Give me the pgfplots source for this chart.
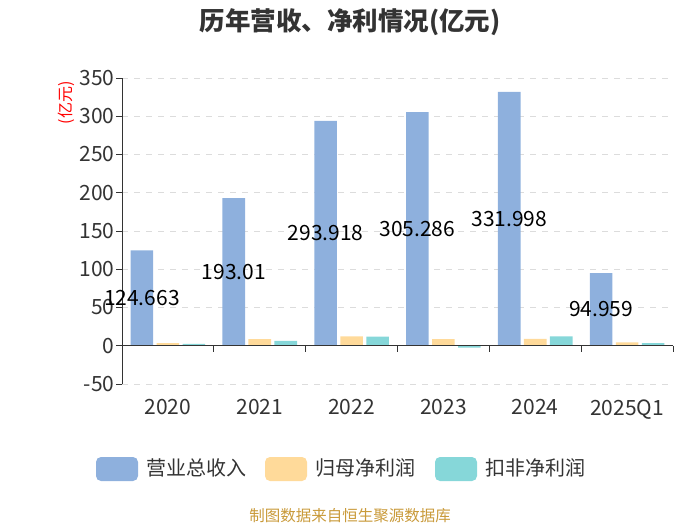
\documentclass[border=0pt]{standalone}
\usepackage{fontspec}
\setmainfont{Noto Sans CJK SC}
\usepackage{pgfplots}
\pgfplotsset{compat=1.18}
\definecolor{cblue}{HTML}{8EB0DD}
\definecolor{corange}{HTML}{FFDA9A}
\definecolor{cteal}{HTML}{86D7D9}
\definecolor{gridc}{HTML}{DCDCDC}
\definecolor{axc}{HTML}{333333}
\definecolor{foot}{HTML}{C99A3A}
\begin{document}
\begin{tikzpicture}[x=1pt,y=1pt]
\path[use as bounding box] (0,0) rectangle (700,525);
\begin{axis}[
  at={(122pt,141pt)}, anchor=south west, scale only axis,
  width=551pt, height=306pt,
  xmin=-0.5, xmax=5.5, ymin=-50, ymax=350,
  ytick={-50,0,50,100,150,200,250,300,350},
  xtick={0,1,2,3,4,5},
  xticklabels={2020,2021,2022,2023,2024,2025Q1},
  axis y line=left, axis x line=bottom,
  axis line style={-, axc, line width=0.9pt},
  x axis line style={draw=none},
  xtick style={draw=none},
  ytick style={axc, line width=0.9pt},
  tick align=outside, major tick length=6pt,
  ymajorgrids, grid style={gridc, line width=0.9pt, dash pattern=on 6pt off 6pt},
  tick label style={font=\fontsize{21}{21}\selectfont, text=axc},
  yticklabel style={xshift=2pt},
  xticklabel style={yshift=-6pt},
  /pgf/number format/assume math mode=true,
  ybar=3.4pt, bar width=22.6pt,
  clip=false,
]
\addplot[fill=cblue, draw=none] coordinates {(0,124.663) (1,193.01) (2,293.918) (3,305.286) (4,331.998) (5,94.959)};
\addplot[fill=corange, draw=none] coordinates {(0,3.5) (1,8.7) (2,12.2) (3,8.7) (4,9.1) (5,4.4)};
\addplot[fill=cteal, draw=none] coordinates {(0,2.6) (1,6.5) (2,11.8) (3,-2.5) (4,12.2) (5,3.5)};
\draw[axc, line width=0.9pt] (axis cs:-0.5,0) -- (axis cs:5.5,0);
\pgfplotsinvokeforeach{-0.5,0.5,1.5,2.5,3.5,4.5,5.5}{
  \draw[axc, line width=0.9pt] (axis cs:#1,0) -- ++(0pt,-6pt);
}
\node[font=\fontsize{21}{21}\selectfont, text=black] at ([xshift=-26pt]axis cs:0,62.33) {124.663};
\node[font=\fontsize{21}{21}\selectfont, text=black] at ([xshift=-26pt]axis cs:1,96.5) {193.01};
\node[font=\fontsize{21}{21}\selectfont, text=black] at ([xshift=-26pt]axis cs:2,146.96) {293.918};
\node[font=\fontsize{21}{21}\selectfont, text=black] at ([xshift=-26pt]axis cs:3,152.64) {305.286};
\node[font=\fontsize{21}{21}\selectfont, text=black] at ([xshift=-26pt]axis cs:4,166.0) {331.998};
\node[font=\fontsize{21}{21}\selectfont, text=black] at ([xshift=-26pt]axis cs:5,47.48) {94.959};
\end{axis}
\node[font=\fontsize{25.5}{25.5}\selectfont\bfseries, text=axc] at (350,503) {历年营收、净利情况(亿元)};
\node[font=\fontsize{16}{16}\selectfont, text=red, rotate=90] at (66,422) {(亿元)};
\fill[cblue, rounded corners=5pt] (96,44) rectangle (138,68);
\node[font=\fontsize{20}{20}\selectfont, text=axc, anchor=west] at (143,57) {营业总收入};
\fill[corange, rounded corners=5pt] (265,44) rectangle (307,68);
\node[font=\fontsize{20}{20}\selectfont, text=axc, anchor=west] at (312,57) {归母净利润};
\fill[cteal, rounded corners=5pt] (435,44) rectangle (477,68);
\node[font=\fontsize{20}{20}\selectfont, text=axc, anchor=west] at (482,57) {扣非净利润};
\node[font=\fontsize{15.5}{15.5}\selectfont, text=foot] at (350,9) {制图数据来自恒生聚源数据库};
\end{tikzpicture}
\end{document}
